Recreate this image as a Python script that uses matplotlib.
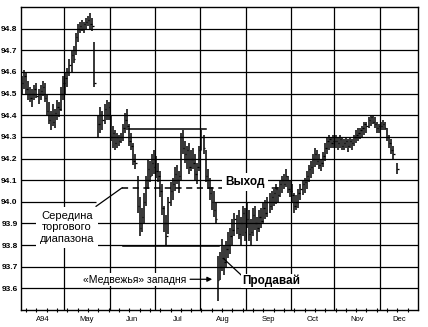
import numpy as np
import matplotlib.pyplot as plt

plt.rcParams['font.family'] = ['Liberation Sans', 'DejaVu Sans']

months = ['A94', 'May', 'Jun', 'Jul', 'Aug', 'Sep', 'Oct', 'Nov', 'Dec']

# daily bars (high, low, close)
apr = [(94.58, 94.50, 94.55), (94.61, 94.52, 94.58), (94.60, 94.50, 94.52), (94.56, 94.47, 94.50),
       (94.53, 94.46, 94.48), (94.52, 94.44, 94.50), (94.54, 94.47, 94.52), (94.55, 94.48, 94.49),
       (94.52, 94.45, 94.50), (94.54, 94.47, 94.51), (94.56, 94.49, 94.53), (94.55, 94.46, 94.48),
       (94.50, 94.40, 94.42), (94.46, 94.36, 94.38), (94.42, 94.33, 94.40), (94.45, 94.35, 94.37),
       (94.43, 94.34, 94.41), (94.47, 94.38, 94.44), (94.46, 94.39, 94.43), (94.53, 94.42, 94.50),
       (94.58, 94.47, 94.55)]
may = [(94.60, 94.50, 94.57), (94.62, 94.53, 94.60), (94.66, 94.58, 94.63), (94.70, 94.60, 94.68),
       (94.72, 94.64, 94.66), (94.78, 94.68, 94.76), (94.82, 94.74, 94.80), (94.83, 94.78, 94.81),
       (94.84, 94.79, 94.80), (94.83, 94.78, 94.82), (94.85, 94.80, 94.83), (94.86, 94.81, 94.84),
       (94.87, 94.80, 94.82), (94.85, 94.79, 94.81), (94.74, 94.53, 94.55), None,
       (94.40, 94.30, 94.36), (94.44, 94.32, 94.40), (94.42, 94.33, 94.38), (94.45, 94.36, 94.43),
       (94.47, 94.38, 94.40), (94.46, 94.38, 94.44)]
jun = [(94.40, 94.28, 94.30), (94.35, 94.25, 94.32), (94.33, 94.24, 94.27), (94.32, 94.25, 94.30),
       (94.31, 94.26, 94.28), (94.32, 94.27, 94.30), (94.36, 94.28, 94.34), (94.41, 94.32, 94.38),
       (94.43, 94.33, 94.35), (94.36, 94.26, 94.28), (94.32, 94.24, 94.26), (94.27, 94.17, 94.19),
       (94.22, 94.15, 94.18), (94.12, 93.95, 93.98), (94.02, 93.84, 93.88), (93.97, 93.86, 93.93),
       (94.04, 93.90, 94.00), (94.12, 93.98, 94.10), (94.20, 94.06, 94.15), (94.19, 94.09, 94.12),
       (94.22, 94.12, 94.18), (94.24, 94.13, 94.16)]
jul = [(94.21, 94.11, 94.14), (94.18, 94.09, 94.12), (94.14, 94.02, 94.05), (94.08, 93.94, 93.97),
       (93.98, 93.86, 93.90), (93.94, 93.80, 93.84), (94.02, 93.85, 94.00), (94.09, 93.98, 94.05),
       (94.11, 94.01, 94.08), (94.16, 94.05, 94.13), (94.17, 94.08, 94.10), (94.14, 94.04, 94.12),
       (94.32, 94.10, 94.30), (94.33, 94.22, 94.25), (94.28, 94.18, 94.22), (94.26, 94.15, 94.24),
       (94.27, 94.13, 94.16), (94.24, 94.14, 94.20), (94.25, 94.15, 94.18), (94.22, 94.10, 94.13),
       (94.18, 94.08, 94.16), (94.26, 94.14, 94.24)]
aug = [(94.33, 94.24, 94.30), (94.31, 94.22, 94.25), (94.24, 94.09, 94.12), (94.15, 94.06, 94.10),
       (94.11, 94.01, 94.04), (94.07, 93.96, 94.00), (94.05, 93.93, 93.96), (94.00, 93.90, 93.92),
       (93.75, 93.54, 93.64), (93.77, 93.64, 93.70), (93.83, 93.68, 93.74), (93.80, 93.66, 93.72),
       (93.82, 93.70, 93.78), (93.86, 93.74, 93.80), (93.88, 93.76, 93.84), (93.92, 93.80, 93.87),
       (93.95, 93.84, 93.92), (93.94, 93.85, 93.88), (93.96, 93.83, 93.85), (93.93, 93.80, 93.90),
       (93.98, 93.84, 93.95), (93.97, 93.82, 93.86)]
sep = [(94.00, 93.88, 93.92), (93.96, 93.82, 93.85), (93.92, 93.80, 93.86), (93.97, 93.84, 93.94),
       (93.98, 93.87, 93.90), (93.93, 93.82, 93.88), (93.96, 93.86, 93.93), (93.97, 93.88, 93.91),
       (94.00, 93.90, 93.97), (94.01, 93.92, 93.95), (94.02, 93.93, 94.00), (94.04, 93.95, 93.98),
       (94.05, 93.96, 94.02), (94.06, 93.98, 94.04), (94.08, 93.99, 94.06), (94.07, 94.00, 94.03),
       (94.10, 94.02, 94.08), (94.12, 94.04, 94.10), (94.13, 94.06, 94.08), (94.15, 94.07, 94.12),
       (94.12, 94.04, 94.06), (94.10, 94.02, 94.05)]
oct_ = [(94.08, 94.00, 94.03), (94.04, 93.95, 93.98), (94.03, 93.96, 94.00), (94.06, 93.97, 94.04),
        (94.08, 94.01, 94.06), (94.10, 94.03, 94.08), (94.11, 94.04, 94.09), (94.14, 94.06, 94.12),
        (94.17, 94.09, 94.15), (94.19, 94.11, 94.16), (94.22, 94.13, 94.20), (94.25, 94.16, 94.22),
        (94.24, 94.17, 94.19), (94.22, 94.15, 94.17), (94.20, 94.14, 94.18), (94.23, 94.16, 94.21),
        (94.27, 94.19, 94.25), (94.30, 94.22, 94.28), (94.31, 94.24, 94.29), (94.30, 94.25, 94.27),
        (94.31, 94.25, 94.28)]
nov = [(94.31, 94.25, 94.28), (94.30, 94.24, 94.27), (94.31, 94.25, 94.29), (94.30, 94.24, 94.26),
       (94.29, 94.24, 94.27), (94.30, 94.25, 94.28), (94.29, 94.23, 94.26), (94.30, 94.25, 94.28),
       (94.29, 94.24, 94.27), (94.31, 94.26, 94.30), (94.33, 94.27, 94.31), (94.34, 94.28, 94.32),
       (94.34, 94.29, 94.33), (94.35, 94.30, 94.34), (94.37, 94.31, 94.36), (94.37, 94.32, 94.35),
       (94.39, 94.34, 94.38), (94.40, 94.35, 94.39), (94.40, 94.36, 94.37), (94.39, 94.34, 94.36),
       (94.37, 94.32, 94.34), (94.36, 94.32, 94.35)]
dec = [(94.37, 94.33, 94.35), (94.38, 94.33, 94.36), (94.37, 94.33, 94.34), (94.34, 94.28, 94.30),
       (94.31, 94.25, 94.27), (94.29, 94.22, 94.24), (94.26, 94.20, 94.22), None,
       (94.18, 94.13, 94.15)]

# trading range found on the chart
range_top = 94.335
range_bottom = 93.794

yticks = [93.6, 93.7, 93.8, 93.9, 94.0, 94.1, 94.2, 94.3, 94.4, 94.5, 94.6, 94.7, 94.8]

month_data = [apr, may, jun, jul, aug, sep, oct_, nov, dec]
all_bars = [b for m in month_data for b in m]
days = np.array([i for i, b in enumerate(all_bars) if b is not None])
high = np.array([all_bars[i][0] for i in days])
low = np.array([all_bars[i][1] for i in days])
close = np.array([all_bars[i][2] for i in days])

x_end = 192
edges = np.cumsum([len(m) for m in month_data])[:-1] - 0.5
all_edges = np.concatenate([[-0.5], edges, [x_end]])
centers = (all_edges[:-1] + all_edges[1:]) / 2

fig = plt.figure(figsize=(4.28, 3.27), dpi=100)
ax = fig.add_axes([21 / 428, 17 / 327, 397 / 428, 303 / 327])

# grid
for lev in yticks:
    if lev == 94.0:
        # the line is broken inside the range in the original
        ax.hlines([lev, lev], [-0.5, 93], [36, x_end], color='black', lw=0.9, zorder=1)
    else:
        ax.axhline(lev, color='black', lw=0.9, zorder=1)
for e in edges:
    ax.axvline(e, color='black', lw=0.9, zorder=1)

# price bars
ax.vlines(days, low, high, color='black', lw=1.1, zorder=2)
ax.hlines(close, days, days + 0.7, color='black', lw=0.9, zorder=2)

# trading range lines
mid = (range_top + range_bottom) / 2
ax.plot([52, 89], [range_top, range_top], color='black', lw=1.1, zorder=2)
ax.plot([49, 95.5], [range_bottom, range_bottom], color='black', lw=1.1, zorder=2)
ax.plot([48.5, 125.6], [mid, mid], color='black', lw=1.1, ls=(0, (4, 3)), zorder=2)

# annotations
ax.text(21.8, 93.882, 'Середина\nторгового\nдиапазона', ha='center', va='center',
        fontsize=8, linespacing=1.2, zorder=4,
        bbox=dict(facecolor='white', edgecolor='none', pad=3))
ax.plot([35.9, 48.5], [93.979, mid], color='black', lw=0.9, zorder=3)

ax.text(108.1, 94.09, 'Выход', ha='center', va='center', fontsize=8.5, fontweight='bold',
        zorder=4, bbox=dict(facecolor='white', edgecolor='none', pad=2))

trap_day = days[np.argmin(low)]
ax.text(54.8, 93.64, '«Медвежья» западня', ha='center', va='center', fontsize=7.5,
        zorder=4, bbox=dict(facecolor='white', edgecolor='none', pad=1))
ax.annotate('', xy=(trap_day - 2.8, 93.642), xytext=(81.5, 93.642),
            arrowprops=dict(arrowstyle='-|>', color='black', lw=0.9, mutation_scale=7,
                            shrinkA=0, shrinkB=0), zorder=4)

ax.text(120.7, 93.634, 'Продавай', ha='center', va='center', fontsize=8.5, fontweight='bold',
        zorder=4, bbox=dict(facecolor='white', edgecolor='none', pad=0.3))
ax.plot([107.0, trap_day + 3.0], [93.655, 93.735], color='black', lw=0.9, zorder=3)

# axes
ax.set_xlim(-0.5, x_end)
ax.set_ylim(93.5, 94.9)
ax.set_yticks(yticks)
ax.set_yticklabels(['%.1f' % v for v in yticks], fontsize=6, fontweight='bold')
ax.tick_params(axis='y', length=0, pad=2.5)
ax.set_xticks(centers)
ax.set_xticklabels(months, fontsize=5.5)
ax.tick_params(axis='x', which='major', length=0, pad=4)
ax.set_xticks(np.arange(2, x_end, 5), minor=True)
ax.tick_params(axis='x', which='minor', length=3, direction='inout', width=0.8)
for s in ax.spines.values():
    s.set_linewidth(1.0)

fig.savefig('out.png', dpi=100)
